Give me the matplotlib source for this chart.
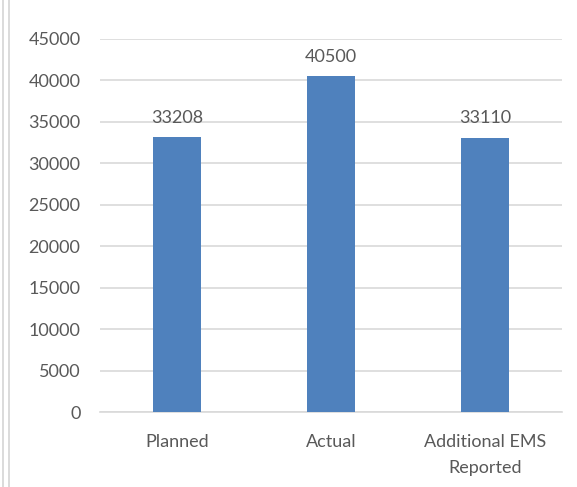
import matplotlib.pyplot as plt
from matplotlib.lines import Line2D

categories = ["Planned", "Actual", "Additional EMS\nReported"]
values = [33208, 40500, 33110]
y_ticks = list(range(0, 45001, 5000))

plt.rcParams["font.family"] = ["Lato", "DejaVu Sans"]
text_color = "#595959"
grid_color = "#d9d9d9"

fig = plt.figure(figsize=(5.77, 4.87), dpi=100)
ax = fig.add_axes([0.1733, 0.154, 0.8007, 0.766])

x = range(len(categories))
bars = ax.bar(x, values, width=0.31, color="#4f81bd", zorder=3)
for bar, v in zip(bars, values):
    ax.annotate(str(v), (bar.get_x() + bar.get_width() / 2, v),
                xytext=(0, 8), textcoords="offset points",
                ha="center", va="bottom", fontsize=13, color=text_color)

ax.set_xlim(-0.5, len(categories) - 0.5)
ax.set_ylim(0, 45000)
ax.set_yticks(y_ticks)
ax.set_yticklabels([str(t) for t in y_ticks])
ax.set_xticks(list(x))
ax.set_xticklabels(categories, linespacing=1.75)
ax.tick_params(axis="both", length=0, labelsize=13, labelcolor=text_color)
ax.tick_params(axis="y", pad=14)
ax.tick_params(axis="x", pad=16)
ax.grid(axis="y", color=grid_color, linewidth=1.2, zorder=0)
for side in ["top", "right", "left"]:
    ax.spines[side].set_visible(False)
ax.spines["bottom"].set_color(grid_color)
ax.spines["bottom"].set_linewidth(1.2)

# thin frame lines along the left edge
for xf in [2.5 / 577, 8.5 / 577]:
    fig.add_artist(Line2D([xf, xf], [0, 1], transform=fig.transFigure,
                          color="#d4d4d4", linewidth=1.2))

fig.savefig("out.png", dpi=100)
